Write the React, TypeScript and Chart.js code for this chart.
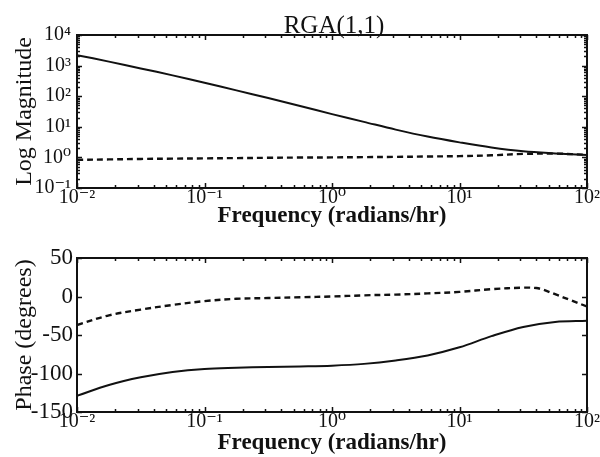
import React, { useEffect, useRef } from 'react';
import { Chart, registerables } from 'chart.js';

Chart.register(...registerables);

const FONT = '"Liberation Serif", "DejaVu Serif", "Times New Roman", serif';
const INK = '#111111';

const PLOT_TITLE = 'RGA(1,1)';
const X_TITLE = 'Frequency (radians/hr)';
const MAG_TITLE = 'Log Magnitude';
const PHASE_TITLE = 'Phase (degrees)';

// frequencies (radians/hr)
const freq = [0.01, 0.0178, 0.0316, 0.0562, 0.1, 0.178, 0.316, 0.562, 1, 1.78, 3.16, 5.62, 10, 17.8, 31.6, 56.2, 100];
// magnitude, solid curve
const magSolid = [2200, 1350, 810, 480, 275, 155, 87, 48, 26, 14.5, 8.1, 4.8, 3.1, 2.1, 1.58, 1.35, 1.2];
// magnitude, dashed curve
const magDashed = [0.83, 0.86, 0.89, 0.91, 0.93, 0.95, 0.97, 0.99, 1.0, 1.02, 1.04, 1.07, 1.1, 1.17, 1.3, 1.33, 1.22];
// phase, solid curve (degrees)
const phaseSolid = [-129, -115, -105, -98, -94, -92.5, -91.5, -90.8, -89.8, -87.5, -83, -76.5, -66, -51.5, -39.5, -33, -31.5];
// phase, dashed curve (degrees)
const phaseDashedFreq = [0.01, 0.0178, 0.0316, 0.0562, 0.1, 0.178, 0.316, 0.562, 1, 1.78, 3.16, 5.62, 10, 17.8, 31.6, 40, 45, 56.2, 75, 100];
const phaseDashed = [-37, -24.5, -17, -11, -6, -3, -2, -1, 0, 1.5, 2.5, 4, 6, 9.5, 11.5, 11, 9, 3, -5, -13];

// ticks
const xTickValues = [0.01, 0.1, 1, 10, 100];
const xTickLabels = ['10⁻²', '10⁻¹', '10⁰', '10¹', '10²'];
const magTickValues = [0.1, 1, 10, 100, 1000, 10000];
const magTickLabels = ['10⁻¹', '10⁰', '10¹', '10²', '10³', '10⁴'];
const phaseTickValues = [-150, -100, -50, 0, 50];
const phaseTickLabels = ['-150', '-100', '-50', '0', '50'];
const minorMultipliers = [2, 3, 4, 5, 6, 7, 8, 9];

function logMinor(decades: number[]): number[] {
  const out: number[] = [];
  for (let i = 0; i < decades.length - 1; i++) {
    for (const m of minorMultipliers) out.push(decades[i] * m);
  }
  return out;
}

const framePlugin = {
  id: 'frame',
  afterDraw(chart: any, _args: any, opts: any) {
    const { ctx, chartArea: a, scales } = chart;
    ctx.save();
    ctx.strokeStyle = INK;
    ctx.lineWidth = 1.5;
    const tickX = (vals: number[], len: number) => {
      for (const v of vals) {
        const px = Math.round(scales.x.getPixelForValue(v)) + 0.5;
        ctx.beginPath();
        ctx.moveTo(px, a.top);
        ctx.lineTo(px, a.top + len);
        ctx.moveTo(px, a.bottom);
        ctx.lineTo(px, a.bottom - len);
        ctx.stroke();
      }
    };
    const tickY = (vals: number[], len: number) => {
      for (const v of vals) {
        const py = Math.round(scales.y.getPixelForValue(v)) + 0.5;
        ctx.beginPath();
        ctx.moveTo(a.left, py);
        ctx.lineTo(a.left + len, py);
        ctx.moveTo(a.right, py);
        ctx.lineTo(a.right - len, py);
        ctx.stroke();
      }
    };
    tickX(opts.xMinor || [], 3);
    tickX(opts.xMajor || [], 5);
    tickY(opts.yMinor || [], 3);
    tickY(opts.yMajor || [], 5);
    ctx.lineWidth = 2;
    ctx.strokeRect(a.left, a.top, a.right - a.left, a.bottom - a.top);
    if (opts.title) {
      ctx.fillStyle = INK;
      ctx.font = `25px ${FONT}`;
      ctx.textAlign = 'center';
      ctx.textBaseline = 'alphabetic';
      ctx.fillText(opts.title, opts.titleX, opts.titleY);
    }
    ctx.restore();
  },
};

function xScale(height: number) {
  return {
    type: 'logarithmic' as const,
    min: 0.01,
    max: 100,
    afterBuildTicks: (s: any) => {
      s.ticks = xTickValues.map((v) => ({ value: v }));
    },
    afterFit: (s: any) => {
      s.height = height;
    },
    grid: { display: false, drawTicks: false },
    border: { display: false },
    ticks: {
      autoSkip: false,
      maxRotation: 0,
      padding: 0,
      color: INK,
      font: { family: FONT, size: 20, lineHeight: 1 },
      callback: (_v: any, i: number) => xTickLabels[i],
    },
    title: {
      display: true,
      text: X_TITLE,
      color: INK,
      font: { family: FONT, size: 23, weight: 'bold' as const, lineHeight: 1.2 },
      padding: { top: 0, bottom: 0 },
    },
  };
}

function line(data: { x: number; y: number }[], dashed: boolean) {
  return {
    data,
    borderColor: INK,
    borderWidth: dashed ? 2.4 : 2,
    borderDash: dashed ? [6, 4] : [],
    pointRadius: 0,
    fill: false,
    tension: 0.35,
  };
}

export default function App() {
  const topRef = useRef<HTMLCanvasElement>(null);
  const botRef = useRef<HTMLCanvasElement>(null);

  useEffect(() => {
    const top = new Chart(topRef.current!, {
      type: 'line',
      data: {
        datasets: [
          line(freq.map((f, i) => ({ x: f, y: magSolid[i] })), false),
          line(freq.map((f, i) => ({ x: f, y: magDashed[i] })), true),
        ],
      },
      options: {
        animation: false,
        responsive: false,
        devicePixelRatio: 1,
        parsing: false,
        layout: { padding: { top: 35, right: 13, left: 0, bottom: 0 } },
        plugins: {
          legend: { display: false },
          tooltip: { enabled: false },
          frame: {
            xMinor: logMinor(xTickValues),
            xMajor: xTickValues,
            yMinor: logMinor(magTickValues),
            yMajor: magTickValues,
            title: PLOT_TITLE,
            titleX: 334,
            titleY: 33,
          },
        } as any,
        scales: {
          x: xScale(42),
          y: {
            type: 'logarithmic',
            min: 0.1,
            max: 10000,
            afterBuildTicks: (s: any) => {
              s.ticks = magTickValues.map((v) => ({ value: v }));
            },
            afterFit: (s: any) => {
              s.width = 77;
            },
            grid: { display: false, drawTicks: false },
            border: { display: false },
            ticks: {
              autoSkip: false,
              padding: 6,
              color: INK,
              font: { family: FONT, size: 20, lineHeight: 1 },
              callback: (_v: any, i: number) => magTickLabels[i],
            },
            title: {
              display: true,
              text: MAG_TITLE,
              color: INK,
              font: { family: FONT, size: 24, lineHeight: 1.2 },
              padding: { top: 10, bottom: 0 },
            },
          },
        } as any,
      },
      plugins: [framePlugin],
    });

    const bot = new Chart(botRef.current!, {
      type: 'line',
      data: {
        datasets: [
          line(freq.map((f, i) => ({ x: f, y: phaseSolid[i] })), false),
          line(phaseDashedFreq.map((f, i) => ({ x: f, y: phaseDashed[i] })), true),
        ],
      },
      options: {
        animation: false,
        responsive: false,
        devicePixelRatio: 1,
        parsing: false,
        layout: { padding: { top: 28, right: 12, left: 0, bottom: 0 } },
        plugins: {
          legend: { display: false },
          tooltip: { enabled: false },
          frame: {
            xMinor: logMinor(xTickValues),
            xMajor: xTickValues,
            yMinor: [],
            yMajor: phaseTickValues,
          },
        } as any,
        scales: {
          x: xScale(45),
          y: {
            type: 'linear',
            min: -150,
            max: 50,
            afterBuildTicks: (s: any) => {
              s.ticks = phaseTickValues.map((v) => ({ value: v }));
            },
            afterFit: (s: any) => {
              s.width = 77;
            },
            grid: { display: false, drawTicks: false },
            border: { display: false },
            ticks: {
              autoSkip: false,
              padding: 4,
              color: INK,
              font: { family: FONT, size: 23, lineHeight: 1 },
              callback: (_v: any, i: number) => phaseTickLabels[i],
            },
            title: {
              display: true,
              text: PHASE_TITLE,
              color: INK,
              font: { family: FONT, size: 24, lineHeight: 1.2 },
              padding: { top: 10, bottom: 0 },
            },
          },
        } as any,
      },
      plugins: [framePlugin],
    });

    return () => {
      top.destroy();
      bot.destroy();
    };
  }, []);

  return (
    <div style={{ position: 'absolute', left: 0, top: 0, width: 600, height: 457, background: '#ffffff' }}>
      <canvas ref={topRef} width={600} height={230} style={{ display: 'block' }} />
      <canvas ref={botRef} width={600} height={227} style={{ display: 'block' }} />
    </div>
  );
}
